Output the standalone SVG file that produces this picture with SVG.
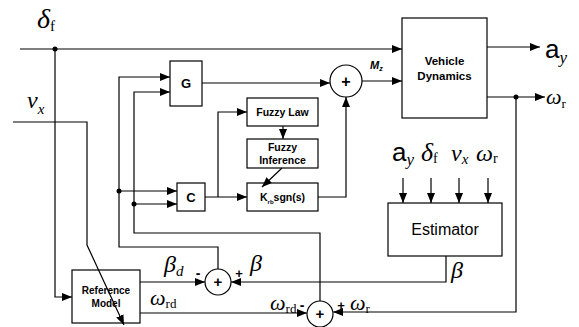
<svg xmlns="http://www.w3.org/2000/svg" width="579" height="327" viewBox="0 0 579 327">
<style>
.box{fill:#fff;stroke:#000;stroke-width:1.2}
.ln{fill:none;stroke:#000;stroke-width:1.2}
.b{font-family:"Liberation Sans",Arial,sans-serif;font-weight:bold;fill:#000}
.s{font-family:"Liberation Sans",Arial,sans-serif;fill:#000}
.m{font-family:"Liberation Serif","Times New Roman",serif;font-style:italic;fill:#000}
.r{font-family:"Liberation Serif","Times New Roman",serif;fill:#000}
</style>
<defs>
<marker id="ar" markerUnits="userSpaceOnUse" markerWidth="10" markerHeight="8" refX="10" refY="4" orient="auto">
<path d="M0,0 L10,4 L0,8 z" fill="#000"/>
</marker>
</defs>
<rect width="579" height="327" fill="#fff"/>

<g id="G"><rect class="box" x="170" y="61" width="32" height="45"/><text class="b" x="186" y="88" font-size="13" text-anchor="middle">G</text></g>
<g id="C"><rect class="box" x="177" y="183" width="28" height="28"/><text class="b" x="191" y="202" font-size="13" text-anchor="middle">C</text></g>
<g id="fuzzylaw"><rect class="box" x="247" y="98" width="71" height="28"/><text class="b" x="282.5" y="116" font-size="10.5" text-anchor="middle">Fuzzy Law</text></g>
<g id="fuzzyinf"><rect class="box" x="247" y="139" width="71" height="29"/><text class="b" x="282.5" y="151" font-size="10.5" text-anchor="middle">Fuzzy</text><text class="b" x="282.5" y="164" font-size="10.5" text-anchor="middle">Inference</text></g>
<g id="ksgn"><rect class="box" x="247" y="183" width="71" height="28"/><text class="b" x="282.5" y="201" font-size="10.5" text-anchor="middle">K<tspan font-size="6" dy="3">rb</tspan><tspan dy="-3">sgn(s)</tspan></text></g>
<g id="sum1"><circle class="box" cx="346" cy="81" r="16"/><text class="b" x="346" y="86.5" font-size="16" text-anchor="middle">+</text></g>
<g id="vd"><rect class="box" x="402" y="18" width="85" height="100"/><text class="b" x="444.5" y="65" font-size="11.5" text-anchor="middle">Vehicle</text><text class="b" x="444.5" y="80" font-size="11.5" text-anchor="middle">Dynamics</text></g>
<g id="est"><rect class="box" x="388" y="203" width="114" height="53"/><text class="s" x="445" y="235" font-size="16" text-anchor="middle">Estimator</text></g>
<g id="ref"><rect class="box" x="72" y="270" width="68" height="53"/><text class="b" x="106" y="294" font-size="10" text-anchor="middle">Reference</text><text class="b" x="106" y="307" font-size="10" text-anchor="middle">Model</text></g>
<g id="sum2"><circle class="box" cx="218" cy="282" r="13"/><text class="b" x="218" y="287" font-size="15" text-anchor="middle">+</text></g>
<g id="sum3"><circle class="box" cx="320" cy="314" r="13"/><text class="b" x="320" y="319" font-size="15" text-anchor="middle">+</text></g>

<g id="connectors">
<path class="ln" d="M20,49 H402" marker-end="url(#ar)"/>
<path class="ln" d="M55,49 V297 H72" marker-end="url(#ar)"/>
<path class="ln" d="M13,122 H87 V245 L124,325" marker-end="url(#ar)"/>
<path class="ln" d="M202,83 H330" marker-end="url(#ar)"/>
<path class="ln" d="M362,81 H402" marker-end="url(#ar)"/>
<path class="ln" d="M487,47 H540" marker-end="url(#ar)"/>
<path class="ln" d="M487,97 H545" marker-end="url(#ar)"/>
<path class="ln" d="M516,97 V312 H333" marker-end="url(#ar)"/>
<path class="ln" d="M403,178 V203" marker-end="url(#ar)"/>
<path class="ln" d="M431,178 V203" marker-end="url(#ar)"/>
<path class="ln" d="M459,178 V203" marker-end="url(#ar)"/>
<path class="ln" d="M488,178 V203" marker-end="url(#ar)"/>
<path class="ln" d="M446,256 V282 H231" marker-end="url(#ar)"/>
<path class="ln" d="M218,269 V247 H119 V77 H170" marker-end="url(#ar)"/>
<path class="ln" d="M119,191 H177" marker-end="url(#ar)"/>
<path class="ln" d="M320,301 V233 H134 V92 H170" marker-end="url(#ar)"/>
<path class="ln" d="M134,204 H177" marker-end="url(#ar)"/>
<path class="ln" d="M140,282 H205" marker-end="url(#ar)"/>
<path class="ln" d="M140,313 H307" marker-end="url(#ar)"/>
<path class="ln" d="M205,197 H247" marker-end="url(#ar)"/>
<path class="ln" d="M218,197 V112 H247" marker-end="url(#ar)"/>
<path class="ln" d="M283,126 V139" marker-end="url(#ar)"/>
<path class="ln" d="M282,168 L262,187" marker-end="url(#ar)"/>
<path class="ln" d="M318,197 H346 V97" marker-end="url(#ar)"/>
<circle cx="55" cy="49" r="2.5" fill="#000"/>
<circle cx="516" cy="97" r="2.5" fill="#000"/>
<circle cx="119" cy="191" r="2.5" fill="#000"/>
<circle cx="134" cy="204" r="2.5" fill="#000"/>
</g>

<g id="labels">
<text class="m" x="37" y="28" font-size="28">δ<tspan class="r" font-style="normal" font-size="15" dy="3">f</tspan></text>
<text class="m" x="27" y="108" font-size="24">v<tspan font-size="15" dy="6">x</tspan></text>
<text class="b" x="370" y="69" font-size="11" font-style="italic">M<tspan font-size="7" dy="2">z</tspan></text>
<text class="s" x="545" y="58" font-size="26">a<tspan class="m" font-size="17" dy="5">y</tspan></text>
<text class="m" x="546" y="104" font-size="22">ω<tspan class="r" font-style="normal" font-size="13" dy="4">r</tspan></text>
<text class="s" x="392" y="161" font-size="26">a<tspan class="m" font-size="17" dy="4">y</tspan></text>
<text class="m" x="421" y="161" font-size="26">δ<tspan class="r" font-style="normal" font-size="14" dy="2">f</tspan></text>
<text class="m" x="451" y="161" font-size="24">v<tspan font-size="15" dy="3">x</tspan></text>
<text class="m" x="476" y="161" font-size="24">ω<tspan class="r" font-style="normal" font-size="14" dy="2">r</tspan></text>
<text class="m" x="164" y="272" font-size="24">β<tspan font-size="15" dy="4">d</tspan></text>
<text class="m" x="250" y="271" font-size="24">β</text>
<text class="m" x="451" y="278" font-size="24">β</text>
<text class="m" x="150" y="305" font-size="22">ω<tspan class="r" font-style="normal" font-size="13" dy="3">rd</tspan></text>
<text class="m" x="270" y="310" font-size="22">ω<tspan class="r" font-style="normal" font-size="13" dy="3">rd</tspan></text>
<text class="m" x="350" y="310" font-size="22">ω<tspan class="r" font-style="normal" font-size="13" dy="3">r</tspan></text>
<text class="b" x="198" y="278" font-size="14" text-anchor="middle">-</text>
<text class="b" x="239" y="278" font-size="13" text-anchor="middle">+</text>
<text class="b" x="302" y="310" font-size="14" text-anchor="middle">-</text>
<text class="b" x="341" y="310" font-size="13" text-anchor="middle">+</text>
</g>
</svg>
